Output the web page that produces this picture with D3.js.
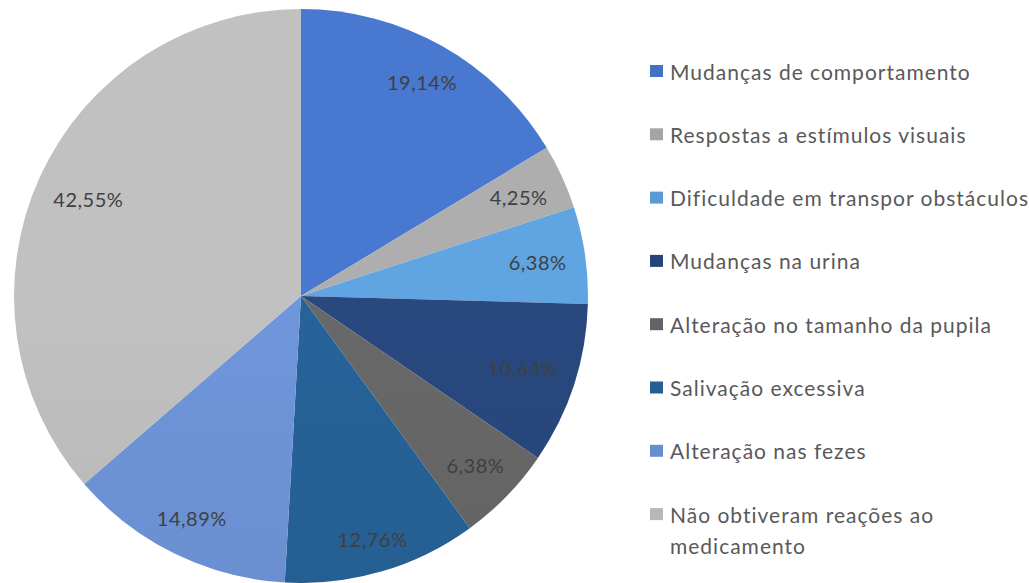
<!DOCTYPE html>
<html>
<head>
<meta charset="utf-8">
<script src="https://cdn.jsdelivr.net/npm/d3@7"></script>
<style>
  body { margin: 0; background: #fff; }
</style>
</head>
<body>
<div id="chart"></div>
<script>
const categories = [
  'Mudanças de comportamento',
  'Respostas a estímulos visuais',
  'Dificuldade em transpor obstáculos',
  'Mudanças na urina',
  'Alteração no tamanho da pupila',
  'Salivação excessiva',
  'Alteração nas fezes',
  'Não obtiveram reações ao medicamento'
];
const values = [19.14, 4.25, 6.38, 10.64, 6.38, 12.76, 14.89, 42.55];
const colors = ['#4472C4', '#A5A5A5', '#5B9BD5', '#264478', '#636363', '#255E91', '#698ED0', '#B7B7B7'];

const w = 1029;
const h = 583;
const svg = d3.select('#chart').append('svg')
  .attr('width', w)
  .attr('height', h);

const [cx, cy, r] = [301, 296, 287];
const fontFam = 'Lato, "Open Sans", sans-serif';

const pie = d3.pie().sort(null).value(d => d);
const arcs = pie(values);
const arc = d3.arc().innerRadius(0).outerRadius(r);

// subtle top-to-bottom shading like the office chart
const defs = svg.append('defs');
colors.forEach((c, i) => {
  const g = defs.append('linearGradient')
    .attr('id', 'g' + i)
    .attr('gradientUnits', 'userSpaceOnUse')
    .attr('x1', 0).attr('y1', cy - r)
    .attr('x2', 0).attr('y2', cy + r);
  g.append('stop').attr('offset', '0%').attr('stop-color', d3.color(c).brighter(0.15));
  g.append('stop').attr('offset', '100%').attr('stop-color', d3.color(c).darker(0.12));
});

const g = svg.append('g').attr('transform', `translate(${cx}, ${cy})`);

g.selectAll('path')
  .data(arcs)
  .enter()
  .append('path')
  .attr('d', arc)
  .attr('fill', (d, i) => `url(#g${i})`);

const fmt = v => v.toFixed(2).replace('.', ',') + '%';

// labels sit just inside the rim, along the slice middle
const labels = g.selectAll('text.lbl')
  .data(arcs)
  .enter()
  .append('text')
  .attr('class', 'lbl')
  .attr('text-anchor', 'middle')
  .attr('dominant-baseline', 'central')
  .style('font-family', fontFam)
  .style('font-size', '20px')
  .style('letter-spacing', '0.5px')
  .style('fill', '#404040')
  .text(d => fmt(d.value));

labels.each(function(d) {
  const tw = this.getComputedTextLength();
  const a = (d.startAngle + d.endAngle) / 2;
  const ux = Math.sin(a), uy = -Math.cos(a);
  const dist = r - 14 - (Math.abs(ux) * (tw / 2 + 4) + Math.abs(uy) * 9);
  d3.select(this).attr('x', ux * dist).attr('y', uy * dist);
});

// legend
const legend = svg.append('g').attr('transform', 'translate(650, 71)');
const rowH = 63.3;
const item = legend.selectAll('g')
  .data(categories)
  .enter()
  .append('g')
  .attr('transform', (d, i) => `translate(0, ${i * rowH})`);

item.append('rect')
  .attr('x', 0).attr('y', -6)
  .attr('width', 13).attr('height', 12)
  .attr('fill', (d, i) => colors[i]);

item.append('text')
  .attr('x', 20)
  .attr('dominant-baseline', 'central')
  .style('font-family', fontFam)
  .style('font-size', '21px')
  .style('letter-spacing', '1px')
  .style('fill', '#595959')
  .each(function(d) {
    const t = d3.select(this);
    if (d.length > 34) {
      const parts = ['Não obtiveram reações ao', 'medicamento'];
      parts.forEach((p, k) => t.append('tspan').attr('x', 20).attr('dy', k ? 31 : 0).text(p));
    } else {
      t.text(d);
    }
  });
</script>
</body>
</html>
